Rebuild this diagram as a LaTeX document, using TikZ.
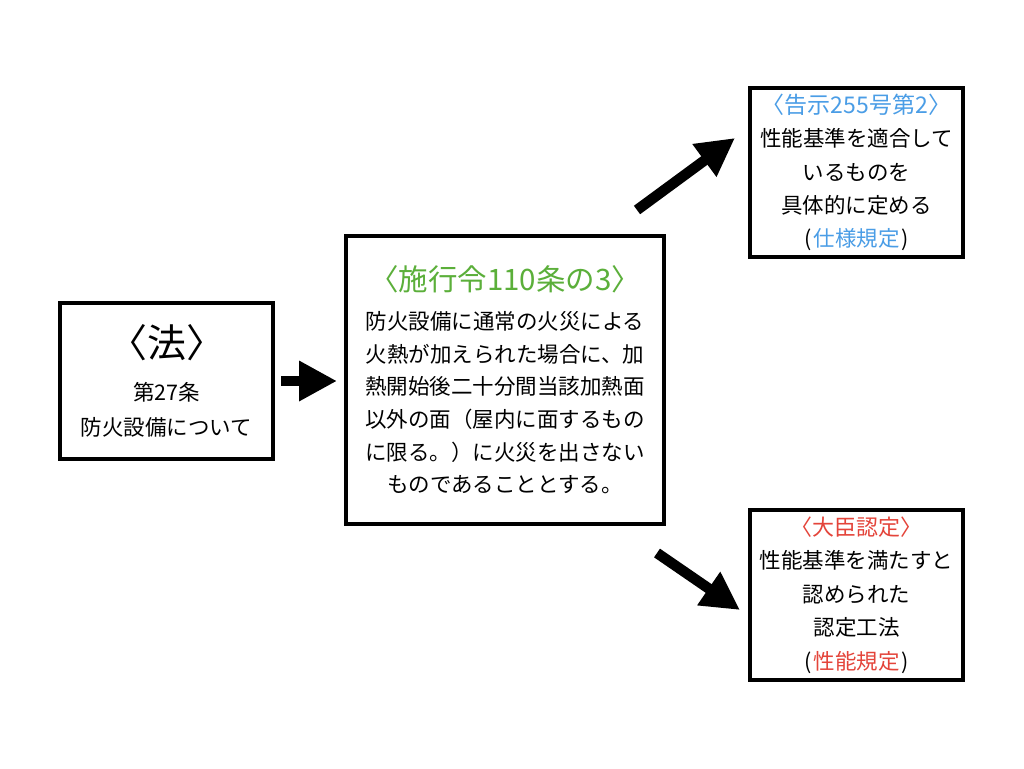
\documentclass[tikz,border=0pt]{standalone}
\usepackage{fontspec}
\setmainfont{Noto Sans CJK JP}
\usepackage{xcolor}
\usetikzlibrary{arrows.meta,positioning}
\definecolor{kokujiblue}{HTML}{4A9DE6}
\definecolor{seireigreen}{HTML}{5BAF3A}
\definecolor{ninteired}{HTML}{E4443A}

\begin{document}
\begin{tikzpicture}[x=1pt,y=-1pt,
  lawbox/.style={draw,line width=4pt,align=center,inner sep=0pt,font=\fontsize{21.5}{33.4}\selectfont},
  bigarrow/.style={line width=10.5pt,-{Triangle[length=38pt,width=38pt]}}]
  \useasboundingbox[fill=white] (0,0) rectangle (1024,768); %整个画面 1024x768
  \node[lawbox,minimum width=213pt,minimum height=156pt] (law) at (166.5,381)
    {{\fontsize{39}{40}\selectfont 〈法〉}\\[9pt]第27条\\[2pt]防火設備について};
  \node[lawbox,minimum width=318pt,minimum height=288pt,font=\fontsize{21.5}{32.7}\selectfont] (order) at (505,380)
    {{\fontsize{29.5}{30}\selectfont\color{seireigreen}〈施行令110条の3〉}\\[6pt]
     防火設備に通常の火災による\\火熱が加えられた場合に、加\\熱開始後二十分間当該加熱面\\
     以外の面（屋内に面するもの\\に限る。）に火災を出さない\\ものであることとする。};
  \node[lawbox,minimum width=213pt,minimum height=169pt] (notice) at (856.5,172.5)
    {{\fontsize{23}{24}\selectfont\color{kokujiblue}〈告示255号第2〉}\\
     性能基準を適合して\\いるものを\\具体的に定める\\(\hspace{1.5pt}{\color{kokujiblue}仕様規定}\hspace{1.5pt})};
  \node[lawbox,minimum width=213pt,minimum height=170pt] (approval) at (856.5,595)
    {{\fontsize{22}{24}\selectfont\color{ninteired}〈大臣認定〉}\\
     性能基準を満たすと\\認められた\\認定工法\\(\hspace{1.5pt}{\color{ninteired}性能規定}\hspace{1.5pt})};
  % 箭头端点
  \coordinate (up0) at (637,210);
  \coordinate (up1) at (735,138);
  \coordinate (dn0) at (657,553);
  \coordinate (dn1) at (740,610);
  \draw[bigarrow,shorten <=6pt,shorten >=7pt] (law.east) -- (law.east -| order.west);
  \draw[bigarrow] (up0) -- (up1);
  \draw[bigarrow] (dn0) -- (dn1);
\end{tikzpicture}
\end{document}
